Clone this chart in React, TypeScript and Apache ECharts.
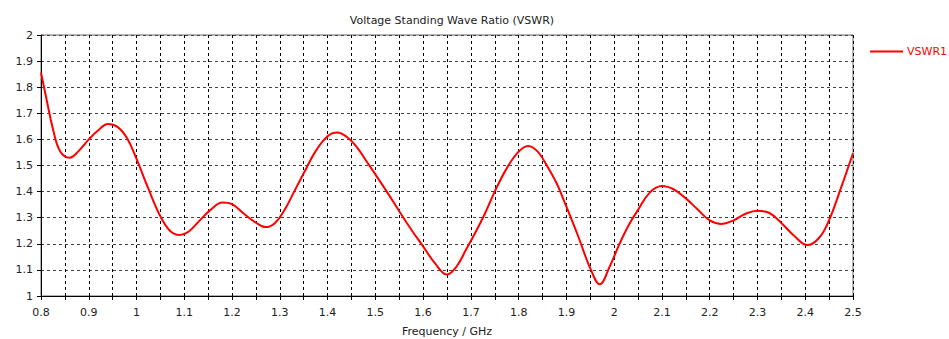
import React, { useEffect, useRef } from "react";
import * as echarts from "echarts";

const title = "Voltage Standing Wave Ratio (VSWR)";
const xName = "Frequency / GHz";
const seriesName = "VSWR1";

const freq = [
  0.8, 0.812, 0.825, 0.84, 0.86, 0.88, 0.9, 0.92, 0.94, 0.96, 0.98,
  1.0, 1.025, 1.05, 1.07, 1.09, 1.11, 1.13, 1.155, 1.18, 1.2, 1.225, 1.25,
  1.27, 1.29, 1.31, 1.33, 1.35, 1.375, 1.4, 1.42, 1.44, 1.46, 1.48, 1.5,
  1.525, 1.55, 1.575, 1.6, 1.625, 1.65, 1.67, 1.69, 1.71, 1.73, 1.75, 1.775,
  1.8, 1.82, 1.84, 1.86, 1.88, 1.9, 1.925, 1.95, 1.97, 1.99, 2.01, 2.03,
  2.05, 2.075, 2.1, 2.125, 2.15, 2.175, 2.2, 2.225, 2.25, 2.275, 2.3, 2.325,
  2.35, 2.375, 2.405, 2.43, 2.45, 2.475, 2.5,
];
const vswr = [
  1.856, 1.75, 1.64, 1.555, 1.53, 1.558, 1.6, 1.635, 1.659, 1.648, 1.605,
  1.525, 1.41, 1.305, 1.25, 1.234, 1.248, 1.285, 1.33, 1.358, 1.352, 1.315, 1.281,
  1.264, 1.28, 1.33, 1.4, 1.47, 1.555, 1.612, 1.626, 1.61, 1.573, 1.52, 1.466,
  1.397, 1.325, 1.255, 1.19, 1.125, 1.082, 1.113, 1.178, 1.245, 1.318, 1.4, 1.489,
  1.553, 1.575, 1.553, 1.497, 1.43, 1.342, 1.227, 1.106, 1.045, 1.11, 1.195, 1.27,
  1.33, 1.397, 1.421, 1.408, 1.374, 1.331, 1.29, 1.276, 1.29, 1.315, 1.327, 1.318,
  1.28, 1.234, 1.195, 1.225, 1.291, 1.415, 1.547,
];

const FONT = "DejaVu Sans";

export default function App() {
  const ref = useRef<HTMLDivElement>(null);
  useEffect(() => {
    if (!ref.current) return;
    const chart = echarts.init(ref.current, undefined, { renderer: "svg" });
    const fmt = (v: number) => String(+v.toFixed(2));
    chart.setOption({
      animation: false,
      backgroundColor: "#fff",
      title: {
        text: title,
        left: 447,
        textAlign: "center",
        top: 10,
        textStyle: { fontFamily: FONT, fontSize: 11, fontWeight: "normal", color: "#222" },
      },
      legend: {
        left: 865,
        top: 41,
        icon: "rect",
        itemWidth: 33,
        itemHeight: 2,
        itemGap: 5,
        data: [seriesName],
        textStyle: { fontFamily: FONT, fontSize: 11, color: "#ff0000", padding: [0, 0, 0, -1] },
      },
      grid: {
        left: 41,
        right: 96,
        top: 35,
        bottom: 43,
        outerBoundsMode: "none",
        containLabel: false,
        show: true,
        borderColor: "#666",
        borderWidth: 1,
        backgroundColor: "transparent",
      },
      xAxis: {
        type: "value",
        min: 0.8,
        max: 2.5,
        interval: 0.1,
        name: xName,
        nameLocation: "middle",
        nameGap: 30,
        nameTextStyle: { fontFamily: FONT, fontSize: 11, color: "#222" },
        axisLine: { show: true, onZero: false, lineStyle: { color: "#000", width: 1 } },
        axisTick: { show: true, length: 4, inside: false, lineStyle: { color: "#000" } },
        minorTick: { show: true, splitNumber: 2, length: 4, lineStyle: { color: "#000" } },
        axisLabel: { formatter: fmt, fontFamily: FONT, fontSize: 11, color: "#222", margin: 11 },
        splitLine: { show: true, lineStyle: { color: "#000", type: [3, 3], width: 1 } },
        minorSplitLine: { show: true, lineStyle: { color: "#000", type: [3, 3], width: 1 } },
      },
      yAxis: {
        type: "value",
        min: 1,
        max: 2,
        interval: 0.1,
        axisLine: { show: true, lineStyle: { color: "#000", width: 1 } },
        axisTick: { show: true, length: 4, lineStyle: { color: "#000" } },
        axisLabel: { formatter: fmt, fontFamily: FONT, fontSize: 11, color: "#222", margin: 8 },
        splitLine: { show: true, lineStyle: { color: "#444", type: [3, 3], width: 1 } },
      },
      series: [
        {
          name: seriesName,
          type: "line",
          data: freq.map((f, i) => [f, vswr[i]]),
          smooth: 0.4,
          showSymbol: false,
          symbol: "none",
          lineStyle: { color: "#ff0000", width: 2 },
          itemStyle: { color: "#ff0000" },
        },
      ],
    });
    return () => chart.dispose();
  }, []);
  return <div ref={ref} style={{ width: 949, height: 339, position: "absolute", left: 0, top: 0 }} />;
}
